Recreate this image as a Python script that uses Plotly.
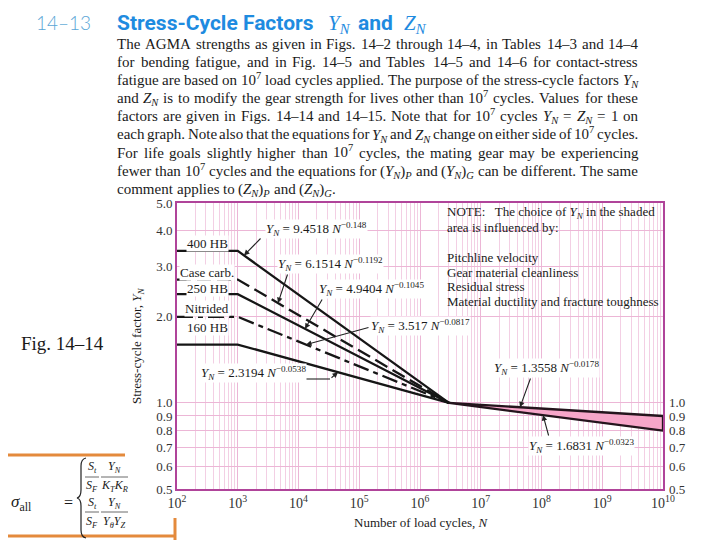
import math
import re
import plotly.graph_objects as go

# ---------------- data ----------------
knee_cycles = [1e2, 1e3, 3e6]
yn_400hb = [3.4, 3.4, 1.0]
yn_case_carb = [2.7, 2.7, 1.0]
yn_250hb = [2.4, 2.4, 1.0]
yn_nitrided = [2.0, 2.0, 1.0]
yn_160hb = [1.6, 1.6, 1.0]

tail_cycles = [3e6, 1e10]
yn_tail_upper = [1.0, 0.9]
yn_tail_lower = [1.0, 0.8]

x_tick_vals = [1e2, 1e3, 1e4, 1e5, 1e6, 1e7, 1e8, 1e9, 1e10]
x_tick_text = ["10<sup>2</sup>", "10<sup>3</sup>", "10<sup>4</sup>", "10<sup>5</sup>", "10<sup>6</sup>",
               "10<sup>7</sup>", "10<sup>8</sup>", "10<sup>9</sup>", "10<sup>10</sup>"]
y_tick_vals = [0.5, 0.6, 0.7, 0.8, 0.9, 1.0, 2.0, 3.0, 4.0, 5.0]
y_tick_text = ["0.5", "0.6", "0.7", "0.8", "0.9", "1.0", "2.0", "3.0", "4.0", "5.0"]
y2_tick_vals = [0.5, 0.6, 0.7, 0.8, 0.9, 1.0]
y2_tick_text = ["0.5", "0.6", "0.7", "0.8", "0.9", "1.0"]

curve_names = ["400 HB", "Case carb.", "250 HB", "Nitrided", "160 HB"]
curve_values = [yn_400hb, yn_case_carb, yn_250hb, yn_nitrided, yn_160hb]
curve_dashes = ["solid", "14px,6px", "solid", "16px,5px,5px,5px", "solid"]

equations = [
    ("9.4518", "0.148"), ("6.1514", "0.1192"), ("4.9404", "0.1045"),
    ("3.517", "0.0817"), ("2.3194", "0.0538"), ("1.3558", "0.0178"), ("1.6831", "0.0323"),
]

body_lines = [
    "The AGMA strengths as given in Figs. 14–2 through 14–4, in Tables 14–3 and 14–4",
    "for bending fatigue, and in Fig. 14–5 and Tables 14–5 and 14–6 for contact-stress",
    "fatigue are based on 10<sup>7</sup> load cycles applied. The purpose of the stress-cycle factors <i>Y<sub>N</sub></i>",
    "and <i>Z<sub>N</sub></i> is to modify the gear strength for lives other than 10<sup>7</sup> cycles. Values for these",
    "factors are given in Figs. 14–14 and 14–15. Note that for 10<sup>7</sup> cycles <i>Y<sub>N</sub></i> = <i>Z<sub>N</sub></i> = 1 on",
    "each graph. Note also that the equations for <i>Y<sub>N</sub></i> and <i>Z<sub>N</sub></i> change on either side of 10<sup>7</sup> cycles.",
    "For life goals slightly higher than 10<sup>7</sup> cycles, the mating gear may be experiencing",
    "fewer than 10<sup>7</sup> cycles and the equations for (<i>Y<sub>N</sub></i>)<sub><i>P</i></sub> and (<i>Y<sub>N</sub></i>)<sub><i>G</i></sub> can be different. The same",
    "comment applies to (<i>Z<sub>N</sub></i>)<sub><i>P</i></sub> and (<i>Z<sub>N</sub></i>)<sub><i>G</i></sub>.",
]

note_lines = [
    "NOTE:\u2002 The choice of <i>Y<sub>N</sub></i> in the shaded",
    "area is influenced by:",
    "",
    "Pitchline velocity",
    "Gear material cleanliness",
    "Residual stress",
    "Material ductility and fracture toughness",
]

# ---------------- geometry helpers (page pixel coordinates) ----------------
OFF = 8                      # browser body margin
W, H = 720 - OFF, 540 - OFF  # figure size that fits the window
L, R, T, B = 177, 663, 203, 489
XLOG0, XLOG1 = 2.0, 10.0
YLOG0, YLOG1 = math.log10(0.5), math.log10(5.0)
SERIF = "Liberation Serif"


def px(x):
    return (x - L) / (R - L)


def py(y):
    return (B - y) / (B - T)


def xpix(n):
    return L + (math.log10(n) - XLOG0) / (XLOG1 - XLOG0) * (R - L)


def ypix(v):
    return B - (math.log10(v) - YLOG0) / (YLOG1 - YLOG0) * (B - T)


def n_at(xp):
    return 10 ** (XLOG0 + (xp - L) / (R - L) * (XLOG1 - XLOG0))


def on_line(n, xs, ys):
    ln = math.log10(n)
    for i in range(len(xs) - 1):
        a, b = math.log10(xs[i]), math.log10(xs[i + 1])
        if a <= ln <= b:
            t = (ln - a) / (b - a)
            return 10 ** (math.log10(ys[i]) + t * (math.log10(ys[i + 1]) - math.log10(ys[i])))
    return ys[-1]


# Times / Liberation Serif advance widths (1/1000 em)
ROMAN = {' ': 250, '(': 333, ')': 333, ',': 250, '-': 333, '.': 250, ':': 278, '=': 564,
         '–': 500, '−': 564}
for c in '0123456789':
    ROMAN[c] = 500
ROMAN.update(dict(zip('ABCDEFGHIJKLMNOPQRSTUVWXYZ',
                      [722, 667, 667, 722, 611, 556, 722, 722, 333, 389, 722, 611, 889, 722, 722, 556,
                       722, 667, 556, 611, 722, 722, 944, 722, 722, 611])))
ROMAN.update(dict(zip('abcdefghijklmnopqrstuvwxyz',
                      [444, 500, 444, 500, 444, 333, 500, 500, 278, 278, 500, 278, 778, 500, 500, 500,
                       500, 333, 389, 278, 500, 500, 722, 500, 500, 444])))
ITALIC = {'Y': 556, 'N': 667, 'Z': 556, 'P': 611, 'G': 722}


def measure(html, size):
    w = 0.0
    italic = False
    scale = 1.0
    for tok in re.split(r'(<[^>]+>)', html):
        if not tok:
            continue
        if tok.startswith('<'):
            tag = tok.strip('<>/').split()[0]
            closing = tok.startswith('</')
            if tag == 'i':
                italic = not closing
            elif tag in ('sub', 'sup'):
                scale = 1.0 if closing else 0.7
            continue
        for ch in tok:
            base = ITALIC.get(ch, ROMAN.get(ch, 500)) if italic else ROMAN.get(ch, 500)
            w += base * size / 1000.0 * scale
    return w


annotations = []
shapes = []


def text_ann(text, x, y, size, xanchor="left", yanchor="middle", color="#1a1a1a", family=SERIF, bg=None,
             weight=None, **kw):
    f = dict(family=family, size=size, color=color)
    if weight:
        f["weight"] = weight
    d = dict(text=text, x=px(x), y=py(y), xref="paper", yref="paper", showarrow=False,
             xanchor=xanchor, yanchor=yanchor, font=f)
    if bg:
        d["bgcolor"] = bg
    d.update(kw)
    annotations.append(d)


def pline(x0, y0, x1, y1, color, width):
    shapes.append(dict(type="line", xref="paper", yref="paper", x0=px(x0), x1=px(x1), y0=py(y0), y1=py(y1),
                       line=dict(color=color, width=width)))


# ---------------- traces ----------------
fig = go.Figure()
for name, vals, dash in zip(curve_names, curve_values, curve_dashes):
    fig.add_trace(go.Scatter(x=knee_cycles, y=vals, mode="lines", name=name,
                             line=dict(color="#161616", width=2.3, dash=dash),
                             hoverinfo="skip", showlegend=False))

poly_x = tail_cycles + tail_cycles[::-1] + [tail_cycles[0]]
poly_y = yn_tail_upper + yn_tail_lower[::-1] + [yn_tail_upper[0]]
fig.add_trace(go.Scatter(x=poly_x, y=poly_y, mode="lines", fill="toself",
                         fillcolor="#f6a6c9", line=dict(color="#24151d", width=2.3),
                         hoverinfo="skip", showlegend=False, yaxis="y2"))

# ---------------- chart labels ----------------
shapes.append(dict(type="rect", xref="paper", yref="paper", x0=px(443), x1=px(662), y0=py(204), y1=py(311),
                   fillcolor="white", line=dict(width=0), layer="between"))

for name, yc in zip(curve_names, [243, 272, 288, 308, 327]):
    text_ann(name, 207, yc, 13, xanchor="center", bg="white", borderpad=0)


def eq_text(coef, expo):
    return f"<i>Y<sub>N</sub></i> = {coef} <i>N</i><sup>−{expo}</sup>"


eq_pos = [(265, 229), (277, 264), (318, 289), (370, 326), (200, 373), (493, 368), (528, 446)]
for (coef, expo), (ex, ey) in zip(equations, eq_pos):
    text_ann(eq_text(coef, expo), ex, ey, 13, bg="white", borderpad=0)

arrow_specs = [
    (knee_cycles, yn_400hb, 244, 262, 237),
    (knee_cycles, yn_case_carb, 278, 288, 273),
    (knee_cycles, yn_250hb, 305, 323, 298),
    (knee_cycles, yn_nitrided, 306, 370, 327),
    (knee_cycles, yn_160hb, 338, 330, 379),
    (tail_cycles, yn_tail_upper, 520, 531, 377),
    (tail_cycles, yn_tail_lower, 543, 549, 437),
]
for xs, ys, tipx, tx, ty in arrow_specs:
    n = n_at(tipx)
    v = on_line(n, xs, ys)
    annotations.append(dict(x=math.log10(n), y=math.log10(v), xref="x", yref="y", text="",
                            showarrow=True, ax=tx - xpix(n), ay=ty - ypix(v), arrowhead=2,
                            arrowsize=1, arrowwidth=1.1, arrowcolor="#222", standoff=0))
pline(306, 379, 330, 379, "#222", 1.1)

for i, ln in enumerate(note_lines):
    if ln:
        text_ann(ln, 445, [212, 227, 242, 257, 272, 286, 301][i], 13)

# axis titles
text_ann("Stress-cycle factor, <i>Y<sub>N</sub></i>", 137, 346, 13, xanchor="center", textangle=-90)
text_ann("Number of load cycles, <i>N</i>", 421, 522, 13, xanchor="center")

# ---------------- page text ----------------
TOP = OFF + 1
text_ann("14–13", 34, TOP, 19, yanchor="top", color="#5aa6d6", family="Lato", weight=300)
text_ann("<b>Stress-Cycle Factors</b>", 115, TOP, 21, yanchor="top", color="#1e8be0", family="Roboto")
text_ann("<i>Y<sub>N</sub></i>", 326, TOP, 21, yanchor="top", color="#1e8be0", family=SERIF)
text_ann("<b>and</b>", 356, TOP, 21, yanchor="top", color="#1e8be0", family="Roboto")
text_ann("<i>Z<sub>N</sub></i>", 402, TOP, 21, yanchor="top", color="#1e8be0", family=SERIF)

BODY_SIZE = 15
LEFT, RIGHT = 117, 638
for li, line in enumerate(body_lines):
    yc = 44 + 18.1 * li
    words = line.split(" ")
    widths = [measure(w, BODY_SIZE) for w in words]
    if li < len(body_lines) - 1 and len(words) > 1:
        gap = (RIGHT - LEFT - sum(widths)) / (len(words) - 1)
    else:
        gap = 250 * BODY_SIZE / 1000.0
    xcur = LEFT
    for w, wd in zip(words, widths):
        ys = 0.0
        if "<sup>" in w:
            ys += 0.076 * BODY_SIZE
        if "<sub>" in w:
            ys -= 0.072 * BODY_SIZE
        text_ann(w, xcur - 2, yc, BODY_SIZE, yshift=ys)
        xcur += wd + gap

text_ann("Fig. 14–14", 19, 343, 19)

# formula box
ORANGE = "#e48a3c"
pline(0, 455, 125, 455, ORANGE, 3)
pline(0, 536, 175, 536, ORANGE, 3)
pline(175, 518, 175, 540, ORANGE, 3)

text_ann("<i>σ</i><sub>all</sub>", 9, 503, 17)
text_ann("=", 62, 502, 16)
brace_pts = [(86, 458), (81, 459), (81, 466), (81, 490), (81, 497), (77, 498), (81, 499), (81, 506),
             (81, 530), (81, 537), (86, 538)]
P = [(px(a), py(b)) for a, b in brace_pts]
brace_path = (f"M {P[0][0]},{P[0][1]} Q {P[1][0]},{P[1][1]} {P[2][0]},{P[2][1]} L {P[3][0]},{P[3][1]} "
              f"Q {P[4][0]},{P[4][1]} {P[5][0]},{P[5][1]} Q {P[6][0]},{P[6][1]} {P[7][0]},{P[7][1]} "
              f"L {P[8][0]},{P[8][1]} Q {P[9][0]},{P[9][1]} {P[10][0]},{P[10][1]}")
shapes.append(dict(type="path", xref="paper", yref="paper", path=brace_path, line=dict(color="#222", width=1.2)))

rows = [(467, 477, 486, "<i>K<sub>T</sub>K<sub>R</sub></i>"), (503, 512, 522, "<i>Y<sub>θ</sub>Y<sub>Z</sub></i>")]
for ynum, ybar, yden, den in rows:
    text_ann("<i>S<sub>t</sub></i>", 92, ynum, 12, xanchor="center", borderpad=0)
    text_ann("<i>S<sub>F</sub></i>", 92, yden, 12, xanchor="center", borderpad=0)
    text_ann("<i>Y<sub>N</sub></i>", 114, ynum, 12, xanchor="center", borderpad=0)
    text_ann(den, 114, yden, 12, xanchor="center", borderpad=0)
    pline(85, ybar, 99, ybar, "#444", 0.8)
    pline(101, ybar, 128, ybar, "#444", 0.8)

# ---------------- layout ----------------
GRID = "#ecb6d6"
MINOR = "#f3cfe4"
BORDER = "#b0449a"
x_minor = [m * 10 ** k for k in range(2, 10) for m in range(2, 10)]

fig.update_layout(
    width=W, height=H,
    margin=dict(l=L - OFF, r=720 - R, t=T - OFF, b=540 - B, pad=0),
    paper_bgcolor="white", plot_bgcolor="white",
    showlegend=False,
    font=dict(family=SERIF, size=13, color="#333"),
    xaxis=dict(type="log", range=[XLOG0, XLOG1], tickvals=x_tick_vals, ticktext=x_tick_text,
               showgrid=True, gridcolor=GRID, gridwidth=1, zeroline=False,
               showline=True, linecolor=BORDER, linewidth=1.6, mirror=True, ticks="",
               tickfont=dict(family=SERIF, size=14, color="#333"),
               minor=dict(tickvals=x_minor, showgrid=True, gridcolor=MINOR, gridwidth=1, ticks="")),
    yaxis=dict(type="log", range=[YLOG0, YLOG1], tickvals=y_tick_vals, ticktext=y_tick_text,
               showgrid=True, gridcolor=GRID, gridwidth=1, zeroline=False,
               showline=True, linecolor=BORDER, linewidth=1.6, mirror=True, ticks="",
               tickfont=dict(family=SERIF, size=13, color="#333")),
    yaxis2=dict(type="log", range=[YLOG0, YLOG1], overlaying="y", side="right",
                tickvals=y2_tick_vals, ticktext=y2_tick_text, showgrid=False, zeroline=False,
                showline=False, ticks="", ticklabelstandoff=5,
                tickfont=dict(family=SERIF, size=13, color="#333")),
    annotations=annotations,
    shapes=shapes,
)

fig.write_html("out.html")
